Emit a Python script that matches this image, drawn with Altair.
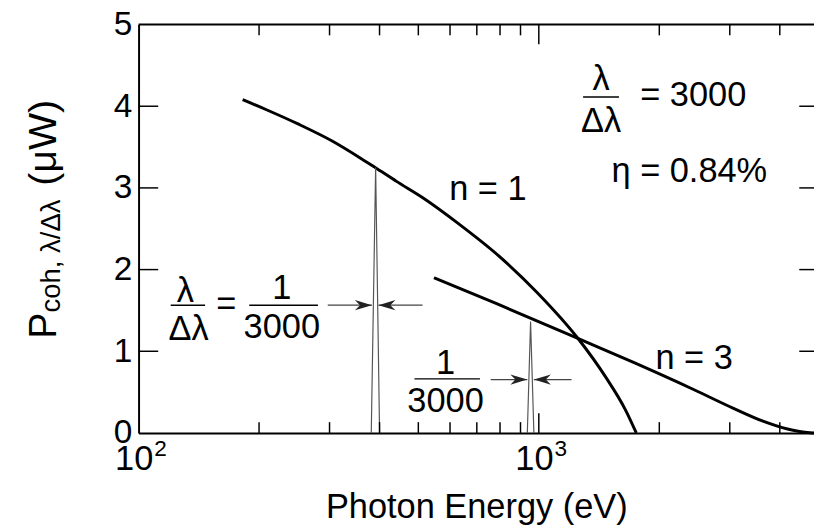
import altair as alt
import pandas as pd

# ---------------- data ----------------
# n = 1 harmonic curve (photon energy eV, power uW)
n1_energy = [182, 208, 251, 303, 365, 390, 441, 513, 631, 790, 990, 1256, 1471, 1647, 1752]
n1_power = [4.08, 3.96, 3.78, 3.58, 3.34, 3.25, 3.08, 2.88, 2.56, 2.178, 1.72, 1.15, 0.68, 0.28, 0.0]

# n = 3 harmonic curve
n3_energy = [547, 790, 1256, 1742, 2443, 3065, 3631, 4182, 4681, 4870]
n3_power = [1.90, 1.576, 1.155, 0.854, 0.529, 0.301, 0.144, 0.048, 0.005, 0.0]

# narrow spectral lines (left foot, peak, right foot)
peak1_energy = [381.4, 391.1, 400.1]
peak1_power = [0.0, 3.25, 0.0]
peak3_energy = [936, 953.7, 972]
peak3_power = [0.0, 1.363, 0.0]

# axis ticks and labels
x_minor = [200, 300, 400, 500, 600, 700, 800, 900, 2000, 3000, 4000]
x_major = [1000]
y_ticks = [1, 2, 3, 4]
y_labels = [0, 1, 2, 3, 4, 5]
x_label_pos = [100, 1000]
x_label_base = ["10", "10"]
x_label_exp = ["2", "3"]

# annotation texts (energy, power, text)
ann_text = ["\u03bb", "\u0394\u03bb", "= 3000", "\u03b7 = 0.84%", "n = 1", "n = 3",
            "\u03bb", "\u0394\u03bb", "=", "1", "3000", "1", "3000"]
ann_energy = [1430, 1430, 2431, 2377, 746, 2443,
              130.9, 133.4, 165.6, 228, 228, 584.8, 584.8]
ann_power = [4.33, 3.815, 4.14, 3.20, 2.98, 0.915,
             1.737, 1.276, 1.576, 1.777, 1.296, 0.854, 0.393]

# fraction bars (start energy, end energy, power)
bar_e1 = [1290, 120.3, 189, 489]
bar_e2 = [1586, 146.6, 280.6, 712.7]
bar_p = [4.112, 1.564, 1.564, 0.662]

# dimension arrows (tail energy, head energy, power, direction)
arr_tail = [296.9, 512.3, 758.3, 1207]
arr_head = [382.8, 397.4, 936, 972]
arr_p = [1.564, 1.564, 0.653, 0.653]
arr_dir = ["right", "left", "right", "left"]

# y-axis title pieces
ytitle_main = "P"
ytitle_sub = "coh, \u03bb/\u0394\u03bb"
ytitle_unit = "(\u03bcW)"

# ---------------- chart ----------------
W, H = 688, 416
FONT = "Liberation Sans"

xs = alt.Scale(type="log", domain=[100, 4870], nice=False)
ys = alt.Scale(domain=[0, 5], nice=False, zero=False)

xaxis = alt.Axis(values=x_label_pos, labels=False, ticks=False, tickSize=0, grid=False,
                 domainColor="black", domainWidth=2,
                 title="Photon Energy (eV)", titleFontSize=35, titlePadding=58,
                 titleFontWeight="normal", titleColor="black", titleFont=FONT)
yaxis = alt.Axis(values=y_labels, ticks=False, tickSize=0, grid=False,
                 domainColor="black", domainWidth=2, labelFontSize=34, labelPadding=7,
                 labelFlush=False, labelColor="black", labelFont=FONT, title="")

X = alt.X("E:Q", scale=xs, axis=xaxis)
Y = alt.Y("P:Q", scale=ys, axis=yaxis)

curves_df = pd.concat([
    pd.DataFrame({"E": n1_energy, "P": n1_power, "s": "n1"}),
    pd.DataFrame({"E": n3_energy, "P": n3_power, "s": "n3"}),
])
curves = alt.Chart(curves_df).mark_line(color="black", strokeWidth=3, interpolate="monotone").encode(
    x=X, y=Y, detail="s:N")

peaks_df = pd.concat([
    pd.DataFrame({"E": peak1_energy, "P": peak1_power, "s": "p1"}),
    pd.DataFrame({"E": peak3_energy, "P": peak3_power, "s": "p3"}),
])
peaks = alt.Chart(peaks_df).mark_line(color="#555555", strokeWidth=1.2).encode(
    x=X, y=Y, detail="s:N")

def xticks(vals, y0, y1):
    return alt.Chart(pd.DataFrame({"E": vals})).mark_rule(color="black", strokeWidth=1.5).encode(
        x=X, y=alt.value(y0), y2=alt.value(y1))

def yticks(vals, x0, x1):
    return alt.Chart(pd.DataFrame({"P": vals})).mark_rule(color="black", strokeWidth=1.5).encode(
        y=Y, x=alt.value(x0), x2=alt.value(x1))

top_line = alt.Chart(pd.DataFrame({"a": [0]})).mark_rule(color="black", strokeWidth=2).encode(
    x=alt.value(0), x2=alt.value(W), y=alt.value(0))

xlab_df = pd.DataFrame({"E": x_label_pos, "b": x_label_base, "e": x_label_exp})
xlab_base = alt.Chart(xlab_df).mark_text(fontSize=35, font=FONT, color="black", align="right",
                                         baseline="alphabetic", dx=15).encode(
    x=X, y=alt.value(H + 38), text="b:N")
xlab_exp = alt.Chart(xlab_df).mark_text(fontSize=23, font=FONT, color="black", align="left",
                                        baseline="alphabetic", dx=16).encode(
    x=X, y=alt.value(H + 23), text="e:N")

ann = alt.Chart(pd.DataFrame({"E": ann_energy, "P": ann_power, "t": ann_text})).mark_text(
    fontSize=35, font=FONT, color="black", baseline="middle", align="center").encode(
    x=X, y=Y, text="t:N")

bars = alt.Chart(pd.DataFrame({"E": bar_e1, "E2": bar_e2, "P": bar_p})).mark_rule(
    color="black", strokeWidth=1.5).encode(x=X, x2="E2:Q", y=Y)

arr_lines = alt.Chart(pd.DataFrame({"E": arr_tail, "E2": arr_head, "P": arr_p})).mark_rule(
    color="#444444", strokeWidth=1.2).encode(x=X, x2="E2:Q", y=Y)

heads_df = pd.DataFrame({"E": arr_head, "P": arr_p, "d": arr_dir})
head_r = alt.Chart(heads_df[heads_df.d == "right"]).mark_point(
    shape="M0,0L-1,-0.3L-0.7,0L-1,0.3Z", filled=True, color="#222222", size=1200, opacity=1).encode(x=X, y=Y)
head_l = alt.Chart(heads_df[heads_df.d == "left"]).mark_point(
    shape="M0,0L1,-0.3L0.7,0L1,0.3Z", filled=True, color="#222222", size=1200, opacity=1).encode(x=X, y=Y)

def ytitle(txt, size, xpx, ypx):
    return alt.Chart(pd.DataFrame({"t": [txt]})).mark_text(
        fontSize=size, font=FONT, color="black", angle=270, align="left", baseline="alphabetic").encode(
        text="t:N", x=alt.value(xpx), y=alt.value(ypx))

# y title chained bottom to top
P_SIZE, S_SIZE = 40, 28
y0 = 320
y1 = y0 - 0.667 * P_SIZE
y2 = y1 - 4.214 * S_SIZE - 0.278 * P_SIZE

chart = alt.layer(
    curves, peaks,
    xticks(x_minor, H, H - 11), xticks(x_major, H, H - 20),
    xticks(x_minor, 0, 11), xticks(x_major, 0, 20),
    yticks(y_ticks, 0, 20), yticks(y_ticks, W - 15, W),
    top_line, xlab_base, xlab_exp, ann, bars, arr_lines, head_r, head_l,
    ytitle(ytitle_main, P_SIZE, -84, y0),
    ytitle(ytitle_sub, S_SIZE, -80, y1),
    ytitle(ytitle_unit, P_SIZE, -84, y2),
).properties(
    width=W, height=H,
    padding={"left": 133, "top": 12, "right": 0, "bottom": 94},
    autosize=alt.AutoSizeParams(type="none"),
).configure_view(stroke="transparent")

chart.save("out.html", embed_options={"renderer": "svg", "actions": False})
